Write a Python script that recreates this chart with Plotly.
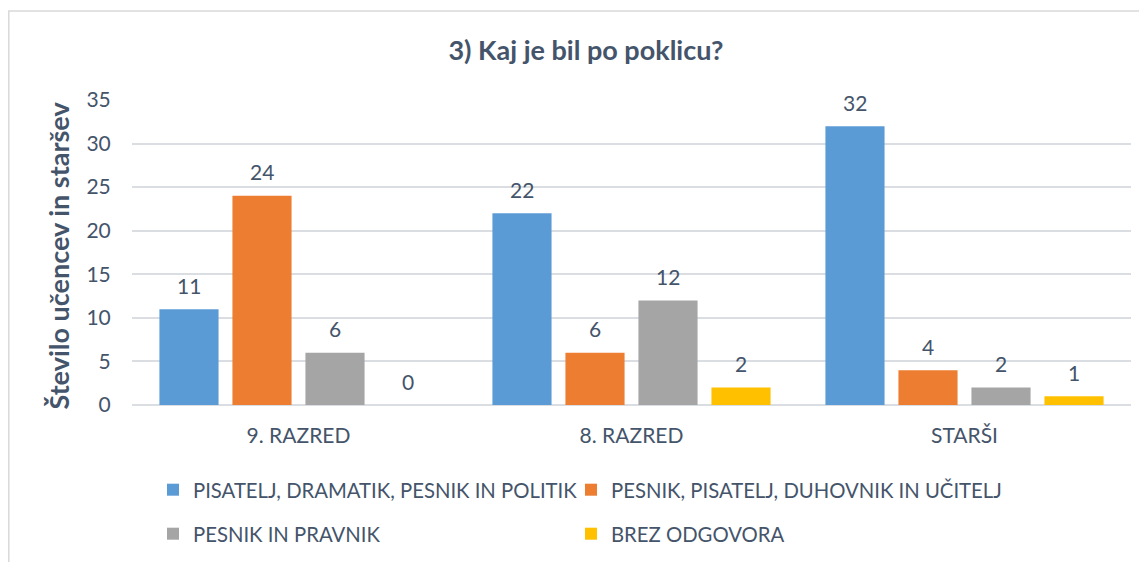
import plotly.graph_objects as go

categories = ["9. RAZRED", "8. RAZRED", "STARŠI"]
series_names = [
    "PISATELJ, DRAMATIK, PESNIK IN POLITIK",
    "PESNIK, PISATELJ, DUHOVNIK IN UČITELJ",
    "PESNIK IN PRAVNIK",
    "BREZ ODGOVORA",
]
s1 = [11, 22, 32]
s2 = [24, 6, 4]
s3 = [6, 12, 2]
s4 = [0, 2, 1]
values = [s1, s2, s3, s4]
colors = ["#5B9BD5", "#ED7D31", "#A5A5A5", "#FFC000"]
legends = ["legend", "legend2", "legend3", "legend4"]
y_title = "<b>Število učencev in staršev</b>"

FONT = "Lato"
TXT = "#44546A"
GRID = "#DADDE2"

OFF = 8  # page body margin
W, H = 1147 - OFF, 562 - OFF
ML, MR, MT, MB = 132 - OFF, 16, 100 - OFF, 562 - 405
plot_w = W - ML - MR
plot_h = H - MT - MB
bargap = 0.123
groupgap = 0.19
cat_w = plot_w / len(categories)
slot = cat_w * (1 - bargap) / len(values)


def px_x(x):
    return (x - OFF - ML) / plot_w


def px_y(y):
    return (H - MB - (y - OFF)) / plot_h


fig = go.Figure()
for i, (name, vals) in enumerate(zip(series_names, values)):
    fig.add_trace(go.Bar(
        x=categories, y=vals, name=name, showlegend=True,
        marker=dict(color=colors[i], line=dict(width=0)),
        legend=legends[i],
    ))
    off = (i - (len(values) - 1) / 2) * slot
    for c, v in zip(categories, vals):
        fig.add_annotation(x=c, y=v, text=str(v), showarrow=False,
                           xshift=off, yshift=24,
                           font=dict(family=FONT, size=21, color=TXT))

# y-axis title
fig.add_annotation(text=y_title, xref="paper", x=px_x(59), xanchor="center",
                   yref="paper", y=0.49, yanchor="middle", textangle=-90,
                   showarrow=False, font=dict(family=FONT, size=27, color=TXT))

# chart border (cropped frame)
fig.add_shape(type="rect", xref="paper", yref="paper",
              x0=px_x(8.8), x1=px_x(1170), y0=px_y(600), y1=px_y(11),
              line=dict(color="#D9D9D9", width=1.5), layer="below")


def legend_box(text_x, row_y):
    return dict(orientation="h", xref="container", yref="container",
                x=(text_x - 40 - OFF) / W, xanchor="left",
                y=1 - (row_y - OFF) / H, yanchor="middle",
                font=dict(family=FONT, size=20.3, color=TXT),
                bgcolor="rgba(0,0,0,0)", visible=True)


fig.update_layout(
    width=W, height=H,
    margin=dict(l=ML, r=MR, t=MT, b=MB),
    paper_bgcolor="white", plot_bgcolor="white",
    showlegend=True,
    barmode="group", bargap=bargap, bargroupgap=groupgap,
    title=dict(text="<b>3) Kaj je bil po poklicu?</b>", x=(586 - OFF) / W, xref="container",
               xanchor="center", y=1 - (51 - OFF) / H, yref="container", yanchor="middle",
               font=dict(family=FONT, size=27, color=TXT)),
    font=dict(family=FONT, size=21, color=TXT),
    legend=legend_box(193, 490),
    legend2=legend_box(611, 490),
    legend3=legend_box(193, 534),
    legend4=legend_box(611, 534),
    xaxis=dict(showline=False, tickfont=dict(family=FONT, size=21, color=TXT),
               ticks="", ticklabelstandoff=16),
    yaxis=dict(range=[0, 35], dtick=5, showgrid=True, gridcolor=GRID, gridwidth=1.5,
               zeroline=True, zerolinecolor=GRID, zerolinewidth=2,
               ticks="outside", ticklen=16, tickcolor="rgba(0,0,0,0)",
               tickfont=dict(family=FONT, size=21, color=TXT)),
)

fig.write_html("out.html")
